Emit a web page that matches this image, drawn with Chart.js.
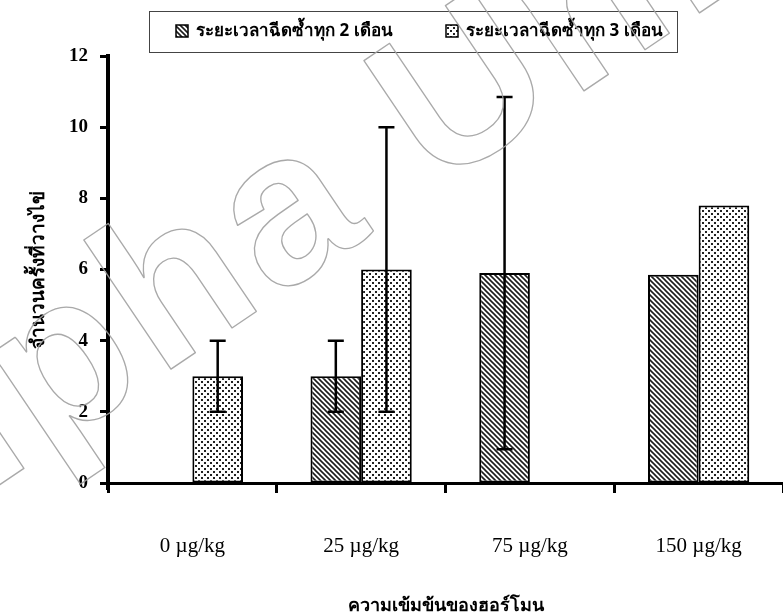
<!DOCTYPE html>
<html>
<head>
<meta charset="utf-8">
<script src="https://cdn.jsdelivr.net/npm/chart.js@4.4.1/dist/chart.umd.min.js"></script>
<style>
  html, body { margin: 0; padding: 0; background: #fff; overflow: hidden; }
  #wrap { width: 783px; height: 616px; position: relative; }
</style>
</head>
<body>
<div id="wrap"><canvas id="c" width="783" height="616"></canvas></div>
<script>
// Hormone dose groups and mean number of spawnings per injection interval
const doses = ['0 µg/kg', '25 µg/kg', '75 µg/kg', '150 µg/kg'];
const every2Months = [null, 3, 5.9, 5.85];
const every3Months = [3, 6, null, 7.8];
// Half-length of each error bar (same units as the bars)
const err2Months = [null, 1, 4.95, null];
const err3Months = [1, 4, null, null];
const seriesNames = ['ระยะเวลาฉีดซ้ำทุก 2 เดือน', 'ระยะเวลาฉีดซ้ำทุก 3 เดือน'];
const yTickValues = [0, 2, 4, 6, 8, 10, 12];
const yTitle = 'จำนวนครั้งที่วางไข่';
const xTitle = 'ความเข้มข้นของฮอร์โมน';
const watermarkText = 'Alpha University';

const thaiFont = '"Noto Sans", "DejaVu Sans", sans-serif';
const numFont = '"Liberation Serif", "Times New Roman", serif';

// Diagonal hatch fill
function hatchPattern() {
  const c = document.createElement('canvas');
  c.width = c.height = 5;
  const g = c.getContext('2d');
  g.fillStyle = '#fff';
  g.fillRect(0, 0, 5, 5);
  g.strokeStyle = '#1c1c1c';
  g.lineWidth = 1.6;
  g.beginPath();
  g.moveTo(-1, -1); g.lineTo(6, 6);
  g.moveTo(-1, 4); g.lineTo(1, 6);
  g.moveTo(4, -1); g.lineTo(6, 1);
  g.stroke();
  return g.createPattern(c, 'repeat');
}

// Staggered dot fill
function dotPattern() {
  const c = document.createElement('canvas');
  c.width = c.height = 6;
  const g = c.getContext('2d');
  g.fillStyle = '#fff';
  g.fillRect(0, 0, 6, 6);
  g.fillStyle = '#222';
  g.fillRect(0, 0, 2, 2);
  g.fillRect(3, 3, 2, 2);
  return g.createPattern(c, 'repeat');
}

const errors = [err2Months, err3Months];

// Vertical error bars with flat caps, centred on each bar
const errorBars = {
  id: 'errorBars',
  afterDatasetsDraw(chart) {
    const ctx = chart.ctx;
    const y = chart.scales.y;
    ctx.save();
    ctx.strokeStyle = '#000';
    ctx.lineWidth = 2.5;
    chart.data.datasets.forEach((ds, i) => {
      const meta = chart.getDatasetMeta(i);
      errors[i].forEach((e, j) => {
        const v = ds.data[j];
        if (e == null || v == null) return;
        const bar = meta.data[j];
        const hi = y.getPixelForValue(v + e);
        const lo = y.getPixelForValue(v - e);
        const cap = 8;
        ctx.beginPath();
        ctx.moveTo(bar.x, lo); ctx.lineTo(bar.x, hi);
        ctx.moveTo(bar.x - cap, hi); ctx.lineTo(bar.x + cap, hi);
        ctx.moveTo(bar.x - cap, lo); ctx.lineTo(bar.x + cap, lo);
        ctx.stroke();
      });
    });
    ctx.restore();
  }
};

// Short stub of the value axis below the category axis
const axisStub = {
  id: 'axisStub',
  afterDraw(chart) {
    const { ctx, chartArea } = chart;
    ctx.save();
    ctx.strokeStyle = '#000';
    ctx.lineWidth = 4;
    ctx.beginPath();
    ctx.moveTo(chartArea.left, chartArea.bottom);
    ctx.lineTo(chartArea.left, chartArea.bottom + 7);
    ctx.stroke();
    ctx.restore();
  }
};

// Framed legend above the plot
const framedLegend = {
  id: 'framedLegend',
  afterDraw(chart) {
    const ctx = chart.ctx;
    ctx.save();
    ctx.strokeStyle = '#444';
    ctx.lineWidth = 1;
    ctx.strokeRect(149.5, 11.5, 528, 41);
    const itemX = [176, 446];
    chart.data.datasets.forEach((ds, i) => {
      const x = itemX[i], top = 25;
      ctx.fillStyle = ds.backgroundColor;
      ctx.fillRect(x, top, 12, 12);
      ctx.strokeStyle = '#000';
      ctx.lineWidth = 1.5;
      ctx.strokeRect(x, top, 12, 12);
      ctx.fillStyle = '#000';
      ctx.font = 'bold 17px ' + thaiFont;
      ctx.textBaseline = 'middle';
      ctx.textAlign = 'left';
      ctx.fillText(ds.label, x + 20, 31);
    });
    ctx.restore();
  }
};

// Outlined diagonal watermark
const watermark = {
  id: 'watermark',
  afterDraw(chart) {
    const ctx = chart.ctx;
    ctx.save();
    ctx.font = 'bold 215px "Liberation Sans", sans-serif';
    ctx.letterSpacing = '8px';
    const lead = ctx.measureText('Alph').width + ctx.measureText('a').width / 2;
    ctx.translate(327, 264);
    ctx.rotate(-34 * Math.PI / 180);
    ctx.strokeStyle = 'rgba(160,160,160,0.9)';
    ctx.lineWidth = 1.3;
    ctx.lineJoin = 'round';
    ctx.textBaseline = 'alphabetic';
    ctx.strokeText(watermarkText, -lead, 0);
    ctx.restore();
  }
};

new Chart(document.getElementById('c'), {
  type: 'bar',
  data: {
    labels: doses,
    datasets: [
      {
        label: seriesNames[0],
        data: every2Months,
        backgroundColor: hatchPattern(),
        borderColor: '#000',
        borderWidth: 2,
        borderSkipped: false
      },
      {
        label: seriesNames[1],
        data: every3Months,
        backgroundColor: dotPattern(),
        borderColor: '#000',
        borderWidth: 2,
        borderSkipped: false
      }
    ]
  },
  options: {
    responsive: false,
    animation: false,
    devicePixelRatio: 1,
    layout: { padding: { top: 56, right: 0, bottom: 0, left: 0 } },
    datasets: { bar: { categoryPercentage: 0.6, barPercentage: 1.0 } },
    plugins: {
      legend: { display: false },
      tooltip: { enabled: false }
    },
    scales: {
      x: {
        offset: true,
        grid: {
          offset: true,
          drawOnChartArea: false,
          tickLength: 10,
          tickWidth: 3,
          tickColor: '#000'
        },
        border: { color: '#000', width: 3 },
        ticks: {
          padding: 41,
          color: '#000',
          font: { family: numFont, size: 21 }
        },
        title: {
          display: true,
          text: xTitle,
          color: '#000',
          font: { family: thaiFont, size: 18, weight: 'bold', lineHeight: 1 },
          padding: { top: 0, bottom: 1 }
        },
        afterFit(scale) { scale.height = 133; }
      },
      y: {
        min: 0,
        max: 12,
        afterBuildTicks(scale) {
          scale.ticks = yTickValues.map(v => ({ value: v }));
        },
        grid: {
          drawOnChartArea: false,
          tickLength: 8,
          tickWidth: 3,
          tickColor: '#000'
        },
        border: { color: '#000', width: 4 },
        ticks: {
          padding: 12,
          color: '#000',
          font: { family: numFont, size: 19, weight: 'bold' }
        },
        title: {
          display: true,
          text: yTitle,
          color: '#000',
          font: { family: thaiFont, size: 19, weight: 'bold' },
          padding: { top: 27, bottom: 0 }
        },
        afterFit(scale) { scale.width = 108; }
      }
    }
  },
  plugins: [errorBars, axisStub, framedLegend, watermark]
});
</script>
</body>
</html>
